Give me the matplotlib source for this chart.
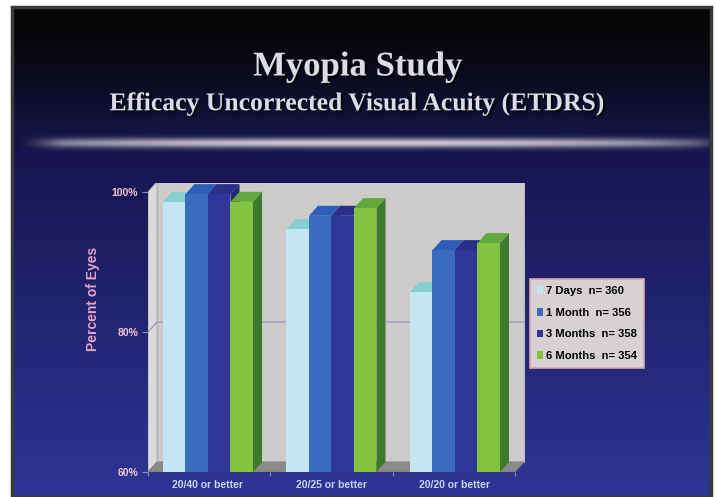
import numpy as np
import matplotlib
matplotlib.use("Agg")
import matplotlib.pyplot as plt
from matplotlib.patches import Polygon, Rectangle, Patch
import matplotlib.patheffects as pe

# --- Data ---
categories = ["20/40 or better", "20/25 or better", "20/20 or better"]
series_names = ["7 Days  n= 360", "1 Month  n= 356", "3 Months  n= 358", "6 Months  n= 354"]
days_7 = [98.6, 94.7, 85.7]
month_1 = [99.7, 96.6, 91.7]
months_3 = [99.7, 96.6, 91.7]
months_6 = [98.6, 97.7, 92.7]
y_ticks = [60, 80, 100]
y_tick_labels = ["60%", "80%", "100%"]

series = [days_7, month_1, months_3, months_6]
front_colors = ["#c3e6f2", "#3a6cc0", "#2e3698", "#84c342"]
top_colors = ["#86cfd0", "#2c5fb8", "#2a3088", "#62a83e"]
side_colors = ["#9cc8d4", "#2a55a0", "#222a78", "#3e7a2e"]

W, H = 716, 497
fig = plt.figure(figsize=(W / 100, H / 100), dpi=100, facecolor="white")


def px_box(x0, y0, x1, y1):
    return [x0 / W, 1 - y1 / H, (x1 - x0) / W, (y1 - y0) / H]


# --- Slide background ---
bg = fig.add_axes([0, 0, 1, 1])
bg.axis("off")

x0, x1, y0, y1 = 12, 711, 7, H
yy = np.arange(y0, y1)[:, None]
xx = np.arange(x0, x1)[None, :]
top = np.array([0.02, 0.02, 0.02])
mid = np.array([0.08, 0.08, 0.27])
low = np.array([0.09, 0.08, 0.31])
bot = np.array([0.18, 0.21, 0.59])
t1 = np.clip((yy - 20) / 115.0, 0, 1)
img = top + (mid - top) * t1[..., None] ** 1.3
t2 = np.clip((yy - 150) / (H - 150.0), 0, 1)
lower = low + (bot - low) * t2[..., None]
img = np.where((yy >= 149)[..., None], lower, img)
img = np.broadcast_to(img, (y1 - y0, x1 - x0, 3)).copy()
# silver streak under the title
xs = (xx - x0) / (x1 - x0)
hx = np.clip(np.sin(np.pi * xs) ** 0.35, 0, 1) * np.clip((xs - 0.01) / 0.06, 0, 1)
hy = np.exp(-((yy - 142.5) / 4.8) ** 2)
glow = (hx * hy)[..., None]
silver = np.array([0.80, 0.78, 0.82])
img = img * (1 - glow) + silver * glow
bg.imshow(img, extent=[x0, x1, y1, y0], aspect="auto", interpolation="bilinear")
bg.add_patch(Rectangle((x0, y0), x1 - x0, y1 - y0, fill=False, ec="#3a3a3a", lw=2.5))
bg.set_xlim(0, W)
bg.set_ylim(H, 0)

shadow = [pe.withSimplePatchShadow(offset=(1.5, -1.5), shadow_rgbFace="black", alpha=0.8)]
fig.text(0.5, 1 - 67 / H, "Myopia Study", ha="center", va="center", color="#dcdce8",
         fontsize=25, fontweight="bold", family="Liberation Serif", path_effects=shadow)
fig.text(0.5, 1 - 104 / H, "Efficacy Uncorrected Visual Acuity (ETDRS)", ha="center", va="center",
         color="#dcdce8", fontsize=18.5, fontweight="bold", family="Liberation Serif", path_effects=shadow)

# --- Chart ---
ax = fig.add_axes(px_box(148, 183, 530, 472))
ppx, ppy = 123.5, 7.0  # pixels per category unit / per percent
ymin = 60
ax.set_ylim(ymin, ymin + 289 / ppy)
ax.set_xlim(-60 / ppx, 2 + 75 / ppx)
ax.set_facecolor("none")
for s in ax.spines.values():
    s.set_visible(False)

dx, dy = 9 / ppx, 10 / ppy
bw = 22.5 / ppx
x_left, x_right = ax.get_xlim()[0], 2 + 60 / ppx
ytop = 100

# walls and floor
ax.add_patch(Rectangle((x_left + dx, ymin + dy), x_right - x_left, ytop - ymin, fc="#cdcaca",
                       ec="#b8b4b8", lw=0.8, zorder=0))
ax.add_patch(Polygon([(x_left, ymin), (x_left, ytop), (x_left + dx, ytop + dy), (x_left + dx, ymin + dy)],
                     closed=True, fc="#dcdada", ec="#b8b4b8", lw=0.8, zorder=0))
ax.add_patch(Polygon([(x_left, ymin), (x_right, ymin), (x_right + dx, ymin + dy), (x_left + dx, ymin + dy)],
                     closed=True, fc="#8a8a8a", ec="#7a7a7a", lw=0.6, zorder=0))
for g in y_ticks[1:-1]:
    ax.plot([x_left, x_left + dx, x_right + dx], [g, g + dy, g + dy], color="#8490b0", lw=0.7, zorder=0.5)

# 3D bars
n = len(series)
for gi in range(len(categories)):
    for si in range(n):
        v = series[si][gi]
        xb = gi + (si - n / 2) * bw
        z = 1 + gi * n + si
        ax.add_patch(Polygon([(xb + bw, ymin), (xb + bw, v), (xb + bw + dx, v + dy), (xb + bw + dx, ymin + dy)],
                             closed=True, fc=side_colors[si], ec="none", zorder=z))
        ax.add_patch(Polygon([(xb, v), (xb + bw, v), (xb + bw + dx, v + dy), (xb + dx, v + dy)],
                             closed=True, fc=top_colors[si], ec="none", zorder=z))
        ax.bar(xb, v - ymin, bw, bottom=ymin, align="edge", color=front_colors[si], zorder=z + 0.5)

ax.set_yticks(y_ticks)
ax.set_yticklabels(y_tick_labels)
ax.set_xticks(range(len(categories)))
ax.set_xticklabels(categories)
ax.set_xticks([x_left, 0.5, 1.5, x_right], minor=True)
ax.tick_params(axis="y", colors="#8a90b8", length=4, width=0.8, pad=3)
ax.tick_params(axis="x", which="major", length=0, pad=6)
ax.tick_params(axis="x", which="minor", colors="#8a90b8", length=3, width=0.8)
for lab in ax.get_yticklabels():
    lab.set_color("#f2c6d6")
    lab.set_fontsize(7.5)
    lab.set_fontweight("bold")
    lab.set_family("Liberation Sans")
for lab in ax.get_xticklabels():
    lab.set_color("#c6d6f2")
    lab.set_fontsize(7.5)
    lab.set_fontweight("bold")
    lab.set_family("Liberation Sans")
ax.set_ylabel("Percent of Eyes", color="#e8a2c8", fontsize=10, fontweight="bold",
              family="Liberation Sans")
ax.yaxis.set_label_coords(-0.125, 0.6)

handles = [Patch(facecolor=c, edgecolor="none") for c in front_colors]
leg = fig.legend(handles, series_names, loc="upper left", bbox_to_anchor=(530 / W, 1 - 279 / H),
                 frameon=True, fancybox=False, handlelength=0.55, handleheight=0.7, handletextpad=0.3,
                 labelspacing=1.05, borderpad=0.6, borderaxespad=0,
                 prop={"family": "Liberation Sans", "weight": "bold", "size": 8.1})
leg.get_frame().set_facecolor("#d6d2d3")
leg.get_frame().set_edgecolor("#d8a4ae")
leg.get_frame().set_linewidth(1.2)
leg.get_frame().set_alpha(1)

fig.savefig("out.png", dpi=100, facecolor=fig.get_facecolor())
